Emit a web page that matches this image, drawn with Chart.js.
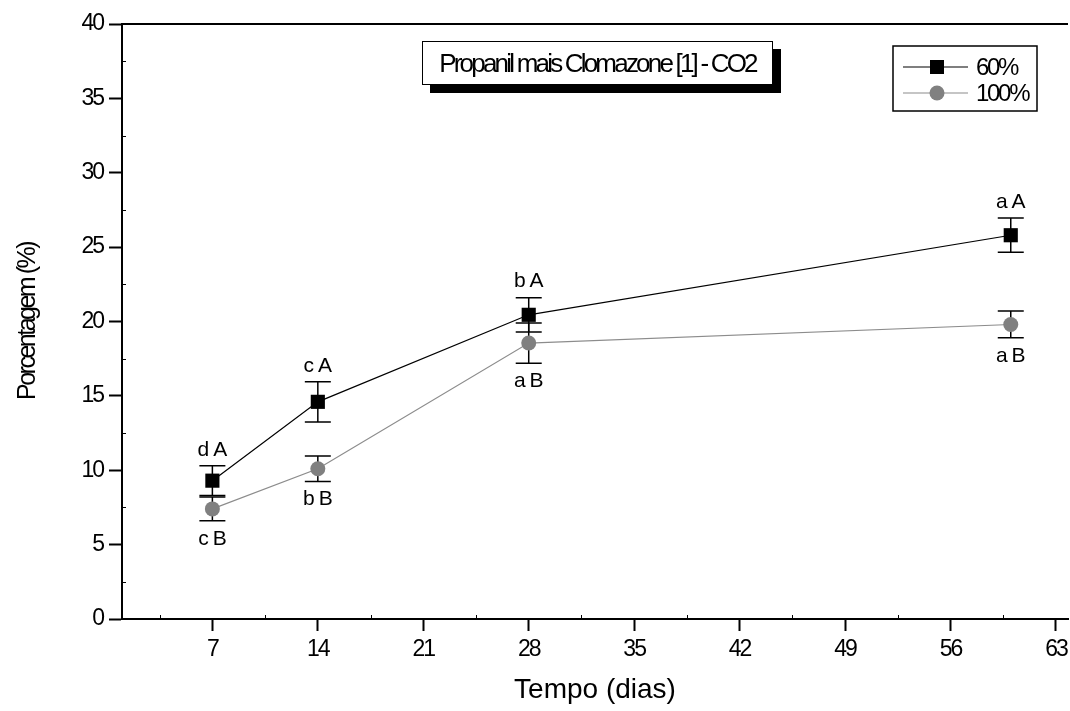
<!DOCTYPE html>
<html><head><meta charset="utf-8">
<script src="https://cdn.jsdelivr.net/npm/chart.js@4.4.1/dist/chart.umd.min.js"></script>
<style>
html,body{margin:0;padding:0;background:#fff;overflow:hidden}
#wrap{position:relative;width:1070px;height:711px}
#title{position:absolute;left:422px;top:41px;width:351px;height:44px;box-sizing:border-box;border:1.5px solid #000;background:#fff;box-shadow:8px 8px 0 #000;font-family:'Liberation Sans',Arial,sans-serif;font-size:26px;letter-spacing:-2.8px;display:flex;align-items:center;justify-content:center;white-space:nowrap;color:#000}
</style>
</head><body>
<div id="wrap"><canvas id="c" width="1070" height="711"></canvas><div id="title"></div></div>
<script>
const categories = [7, 14, 28, 60];
const series60 = [9.3, 14.6, 20.45, 25.8];
const err60 = [1.0, 1.35, 1.15, 1.15];
const series100 = [7.4, 10.1, 18.55, 19.8];
const err100 = [0.8, 0.85, 1.35, 0.9];
const letters60 = ['dA', 'cA', 'bA', 'aA'];
const letters100 = ['cB', 'bB', 'aB', 'aB'];
const xTicks = [7, 14, 21, 28, 35, 42, 49, 56, 63];
const xMinorTicks = [3.5, 10.5, 17.5, 24.5, 31.5, 38.5, 45.5, 52.5, 59.5];
const yTicks = [0, 5, 10, 15, 20, 25, 30, 35, 40];
const yMinorTicks = [2.5, 7.5, 12.5, 17.5, 22.5, 27.5, 32.5, 37.5];
const legendLabels = ['60%', '100%'];
const titleText = 'Propanil mais Clomazone [1] - CO2';
const xTitle = 'Tempo (dias)';
const yTitle = 'Porcentagem (%)';

document.getElementById('title').textContent = titleText;
const FAM = "'Liberation Sans', Arial, sans-serif";
const errs = [err60, err100];
const letters = [letters60, letters100];

function wrapTitle(scale, spacing) {
  if (scale._wrapped) return;
  const orig = scale.drawTitle;
  scale.drawTitle = function () { const c = this.ctx; const o = c.letterSpacing; c.letterSpacing = spacing; orig.apply(this, arguments); c.letterSpacing = o; };
  scale._wrapped = true;
}

const decorPlugin = {
  id: 'decor',
  beforeDraw(chart) {
    chart.ctx.letterSpacing = '-2px';
    wrapTitle(chart.scales.x, '0px');
    wrapTitle(chart.scales.y, '-2.5px');
  },
  beforeDatasetsDraw(chart) {
    const ctx = chart.ctx, xs = chart.scales.x, ys = chart.scales.y;
    ctx.save();
    ctx.strokeStyle = '#000';
    ctx.lineWidth = 1.5;
    chart.data.datasets.forEach((ds, di) => {
      ds.data.forEach((p, i) => {
        const px = xs.getPixelForValue(p.x);
        const yt = ys.getPixelForValue(p.y + errs[di][i]);
        const yb = ys.getPixelForValue(p.y - errs[di][i]);
        ctx.beginPath();
        ctx.moveTo(px, yt); ctx.lineTo(px, yb);
        ctx.moveTo(px - 13, yt); ctx.lineTo(px + 13, yt);
        ctx.moveTo(px - 13, yb); ctx.lineTo(px + 13, yb);
        ctx.stroke();
      });
    });
    ctx.restore();
  },
  afterDatasetsDraw(chart) {
    const ctx = chart.ctx, xs = chart.scales.x, ys = chart.scales.y;
    ctx.save();
    ctx.fillStyle = '#000';
    ctx.font = '21px ' + FAM;
    ctx.letterSpacing = '4px';
    ctx.textAlign = 'center';
    ctx.textBaseline = 'middle';
    chart.data.datasets.forEach((ds, di) => {
      ds.data.forEach((p, i) => {
        const px = xs.getPixelForValue(p.x) + 2;
        if (di === 0) {
          const yt = ys.getPixelForValue(p.y + errs[di][i]);
          ctx.fillText(letters[di][i], px, yt - 16);
        } else {
          const yb = ys.getPixelForValue(p.y - errs[di][i]);
          ctx.fillText(letters[di][i], px, yb + 18);
        }
      });
    });
    ctx.restore();
  },
  afterDraw(chart) {
    const ctx = chart.ctx, a = chart.chartArea, xs = chart.scales.x, ys = chart.scales.y;
    ctx.save();
    ctx.strokeStyle = '#000';
    ctx.lineWidth = 2;
    ctx.beginPath(); ctx.moveTo(a.left - 1, a.top); ctx.lineTo(a.right, a.top); ctx.stroke();
    ctx.lineWidth = 1;
    ctx.beginPath();
    yMinorTicks.forEach(v => { const py = Math.round(ys.getPixelForValue(v)) + 0.5; ctx.moveTo(a.left, py); ctx.lineTo(a.left + 4, py); });
    xMinorTicks.forEach(v => { const px = Math.round(xs.getPixelForValue(v)) + 0.5; ctx.moveTo(px, a.bottom); ctx.lineTo(px, a.bottom - 4); });
    ctx.stroke();
    ctx.lineWidth = 1.5;
    ctx.strokeRect(893, 46, 144, 65);
    const rows = [67, 93];
    chart.data.datasets.forEach((ds, di) => {
      const y = rows[di];
      ctx.strokeStyle = ds.borderColor;
      ctx.lineWidth = 1.2;
      ctx.beginPath(); ctx.moveTo(903, y); ctx.lineTo(968, y); ctx.stroke();
      ctx.fillStyle = ds.pointBackgroundColor;
      if (ds.pointStyle === 'rect') { ctx.fillRect(930, y - 7, 14, 14); }
      else { ctx.beginPath(); ctx.arc(937, y, 7.5, 0, Math.PI * 2); ctx.fill(); }
      ctx.fillStyle = '#000';
      ctx.font = '24px ' + FAM;
      ctx.letterSpacing = '-2.3px';
      ctx.textAlign = 'left';
      ctx.textBaseline = 'middle';
      ctx.fillText(ds.label, 976, y + 1);
    });
    ctx.restore();
  }
};

new Chart(document.getElementById('c'), {
  type: 'scatter',
  data: {
    datasets: [
      { label: legendLabels[0], data: categories.map((x, i) => ({ x, y: series60[i] })), showLine: true,
        borderColor: '#000', borderWidth: 1.2, pointStyle: 'rect', pointRadius: 10, pointHoverRadius: 10,
        pointBackgroundColor: '#000', pointBorderColor: '#000', pointBorderWidth: 0 },
      { label: legendLabels[1], data: categories.map((x, i) => ({ x, y: series100[i] })), showLine: true,
        borderColor: '#8c8c8c', borderWidth: 1.2, pointStyle: 'circle', pointRadius: 7.5, pointHoverRadius: 7.5,
        pointBackgroundColor: '#808080', pointBorderColor: '#808080', pointBorderWidth: 0 }
    ]
  },
  options: {
    responsive: false, animation: false, devicePixelRatio: 1,
    layout: { autoPadding: false, padding: { top: 24, right: 2, left: 0, bottom: 0 } },
    plugins: { legend: { display: false }, tooltip: { enabled: false } },
    scales: {
      x: {
        type: 'linear', min: 1, max: 63.8,
        afterFit(s) { s.height = 92; s.paddingLeft = 0; s.paddingRight = 0; },
        afterBuildTicks(s) { s.ticks = xTicks.map(v => ({ value: v })); },
        grid: { drawOnChartArea: false, drawTicks: true, tickLength: 12, tickWidth: 2, tickColor: '#000' },
        border: { color: '#000', width: 2 },
        ticks: { font: { family: FAM, size: 23 }, color: '#000', padding: 5, maxRotation: 0, autoSkip: false },
        title: { display: true, text: xTitle, color: '#000', font: { family: FAM, size: 28 }, padding: { top: 0, bottom: 4 } }
      },
      y: {
        type: 'linear', min: 0, max: 40,
        afterFit(s) { s.width = 122; s.paddingTop = 0; s.paddingBottom = 0; },
        afterBuildTicks(s) { s.ticks = yTicks.map(v => ({ value: v })); },
        grid: { drawOnChartArea: false, drawTicks: true, tickLength: 13, tickWidth: 2, tickColor: '#000' },
        border: { color: '#000', width: 2 },
        ticks: { font: { family: FAM, size: 23 }, color: '#000', padding: 6, autoSkip: false },
        title: { display: true, text: yTitle, color: '#000', font: { family: FAM, size: 25 }, padding: { top: 13, bottom: 0 } }
      }
    }
  },
  plugins: [decorPlugin]
});
</script>
</body></html>
